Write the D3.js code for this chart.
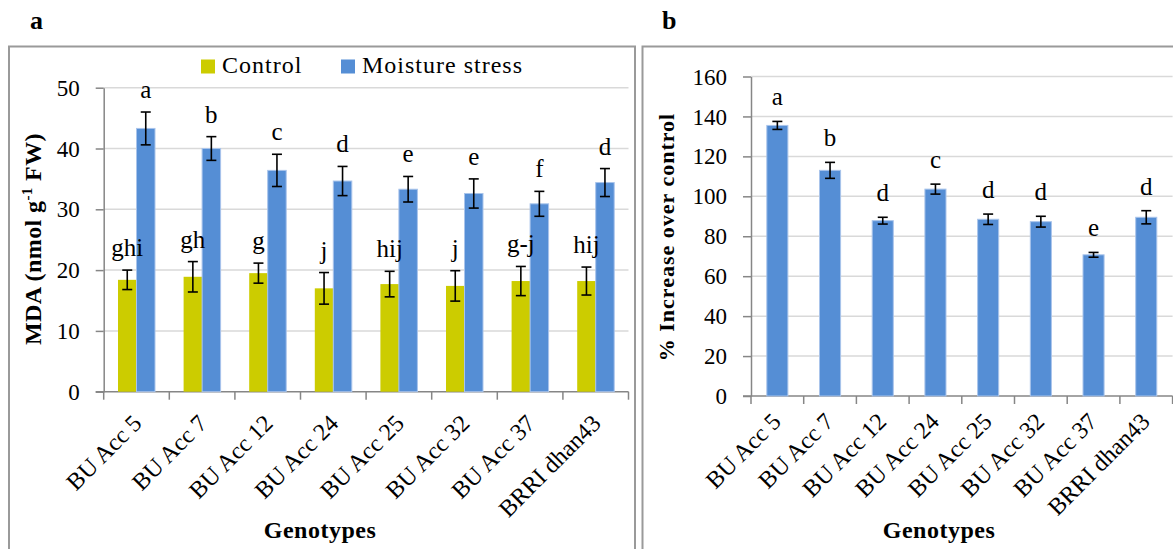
<!DOCTYPE html>
<html>
<head>
<meta charset="utf-8">
<script src="https://cdn.jsdelivr.net/npm/d3@7"></script>
<style>
  html, body { margin: 0; padding: 0; background: #fff; }
  svg { display: block; }
  text { font-family: 'Liberation Serif', 'Times New Roman', serif; fill: #000; }
</style>
</head>
<body>
<svg id="chart" width="1173" height="549"></svg>
<script>
// ---------- data ----------
const genotypes = ["BU Acc 5", "BU Acc 7", "BU Acc 12", "BU Acc 24", "BU Acc 25", "BU Acc 32", "BU Acc 37", "BRRI dhan43"];
const seriesNames = ["Control", "Moisture stress"];
const controlMDA = [18.4, 18.9, 19.5, 17.0, 17.7, 17.4, 18.2, 18.2];
const controlErr = [1.6, 2.5, 1.65, 2.6, 2.1, 2.5, 2.4, 2.3];
const controlLetters = ["ghi", "gh", "g", "j", "hij", "j", "g-j", "hij"];
const stressMDA = [43.3, 40.0, 36.4, 34.65, 33.3, 32.6, 30.9, 34.4];
const stressErr = [2.7, 1.95, 2.65, 2.4, 2.1, 2.4, 2.05, 2.3];
const stressLetters = ["a", "b", "c", "d", "e", "e", "f", "d"];
const increase = [135.5, 113.0, 87.8, 103.6, 88.5, 87.3, 70.7, 89.5];
const increaseErr = [2.0, 4.0, 1.7, 2.5, 2.6, 2.7, 1.2, 3.3];
const increaseLetters = ["a", "b", "d", "c", "d", "d", "e", "d"];
const mdaTicks = [0, 10, 20, 30, 40, 50];
const increaseTicks = [0, 20, 40, 60, 80, 100, 120, 140, 160];

// ---------- styles ----------
const YELLOW = "#cccc00";
const BLUE = "#558ed5";
const AXIS = "#868686";
const GRID = "#d9d9d9";
const BORDER = "#9a9a9a";

const svg = d3.select("#chart");

// panel borders
svg.append("rect").attr("x", 9).attr("y", 46.5).attr("width", 626).attr("height", 600)
  .attr("fill", "none").attr("stroke", BORDER).attr("stroke-width", 2);
svg.append("rect").attr("x", 642.5).attr("y", 46.5).attr("width", 600).attr("height", 600)
  .attr("fill", "none").attr("stroke", BORDER).attr("stroke-width", 2);

// panel letters
svg.append("text").attr("x", 30).attr("y", 28.5).attr("font-size", 26).attr("font-weight", "bold").text("a");
svg.append("text").attr("x", 662).attr("y", 28.5).attr("font-size", 26).attr("font-weight", "bold").text("b");

function drawFrame(g, x, y, ticks, x0, x1) {
  g.append("g").selectAll("line").data(ticks.filter(t => t !== 0)).join("line")
    .attr("x1", x0).attr("x2", x1)
    .attr("y1", d => y(d)).attr("y2", d => y(d))
    .attr("stroke", GRID).attr("stroke-width", 1.5);
  const ya = d3.axisLeft(y).tickValues(ticks).tickSize(8).tickSizeOuter(0).tickPadding(16);
  const yg = g.append("g").attr("transform", `translate(${x0},0)`).call(ya);
  yg.select(".domain").attr("stroke", AXIS).attr("stroke-width", 1.5);
  yg.selectAll(".tick line").attr("stroke", AXIS).attr("stroke-width", 1.5);
  yg.selectAll(".tick text").attr("font-size", 23).attr("font-family", "'Liberation Serif', serif").attr("dy", "0.33em");
  g.append("line").attr("x1", x0 - 8).attr("x2", x1).attr("y1", y(0)).attr("y2", y(0))
    .attr("stroke", AXIS).attr("stroke-width", 1.5);
  const step = x.step();
  const r0 = x.range()[0];
  const bpos = d3.range(x.domain().length + 1).map(i => r0 + i * step);
  g.append("g").selectAll("line").data(bpos).join("line")
    .attr("x1", d => d).attr("x2", d => d)
    .attr("y1", y(0)).attr("y2", y(0) + 8)
    .attr("stroke", AXIS).attr("stroke-width", 1.5);
}

function errorBars(g, data, cx, y, capW) {
  const eg = g.append("g").attr("stroke", "#000").attr("stroke-width", 1.6);
  data.forEach(d => {
    const x = cx(d);
    eg.append("line").attr("x1", x).attr("x2", x).attr("y1", y(d.v + d.e)).attr("y2", y(d.v - d.e));
    eg.append("line").attr("x1", x - capW / 2).attr("x2", x + capW / 2).attr("y1", y(d.v + d.e)).attr("y2", y(d.v + d.e));
    eg.append("line").attr("x1", x - capW / 2).attr("x2", x + capW / 2).attr("y1", y(d.v - d.e)).attr("y2", y(d.v - d.e));
  });
}

// ================= Panel a =================
{
  const g = svg.append("g");
  const x = d3.scaleBand().domain(genotypes).range([103.7, 628.5]).paddingInner(0).paddingOuter(0);
  const xi = d3.scaleBand().domain(seriesNames).range([0, x.bandwidth()]).paddingInner(0).paddingOuter(0.773);
  const y = d3.scaleLinear().domain([0, 50]).range([391.7, 87.7]);
  drawFrame(g, x, y, mdaTicks, 103.7, 628.5);

  const rows = [];
  genotypes.forEach((gname, i) => {
    rows.push({ g: gname, s: seriesNames[0], v: controlMDA[i], e: controlErr[i], lab: controlLetters[i], c: YELLOW });
    rows.push({ g: gname, s: seriesNames[1], v: stressMDA[i], e: stressErr[i], lab: stressLetters[i], c: BLUE });
  });
  g.append("g").selectAll("rect").data(rows).join("rect")
    .attr("x", d => x(d.g) + xi(d.s))
    .attr("width", xi.bandwidth())
    .attr("y", d => y(d.v))
    .attr("height", d => y(0) - y(d.v))
    .attr("fill", d => d.c)
    .attr("stroke", d => d.c === BLUE ? "#a9c4eb" : "none")
    .attr("stroke-width", 1);
  const cx = d => x(d.g) + xi(d.s) + xi.bandwidth() / 2;
  errorBars(g, rows, cx, y, 10);
  g.append("g").selectAll("text").data(rows).join("text")
    .attr("x", cx).attr("y", d => y(d.v + d.e) - 14)
    .attr("text-anchor", "middle").attr("font-size", 25)
    .text(d => d.lab);

  g.append("g").selectAll("text").data(genotypes).join("text")
    .attr("transform", d => `translate(${x(d) + x.bandwidth() / 2 + 6.5},${y(0) + 33}) rotate(-45)`)
    .attr("text-anchor", "end").attr("font-size", 24)
    .text(d => d);

  const yt = g.append("text").attr("transform", "translate(41,239) rotate(-90)")
    .attr("text-anchor", "middle").attr("font-size", 24).attr("font-weight", "bold").attr("letter-spacing", 0.4);
  yt.append("tspan").text("MDA (nmol g");
  yt.append("tspan").attr("font-size", 15).attr("dy", -9).text("-1");
  yt.append("tspan").attr("dy", 9).text(" FW)");
  g.append("text").attr("x", 320).attr("y", 538).attr("text-anchor", "middle")
    .attr("font-size", 24).attr("font-weight", "bold").attr("letter-spacing", 0.5).text("Genotypes");

  const legendX = [201, 341];
  seriesNames.forEach((s, i) => {
    g.append("rect").attr("x", legendX[i]).attr("y", 59.5).attr("width", 14).attr("height", 14)
      .attr("fill", i === 0 ? YELLOW : BLUE);
    g.append("text").attr("x", legendX[i] + 21).attr("y", 73).attr("font-size", 24)
      .attr("letter-spacing", 1).text(s);
  });
}

// ================= Panel b =================
{
  const g = svg.append("g");
  const x = d3.scaleBand().domain(genotypes).range([751, 1172.6]).paddingInner(0.6).paddingOuter(0.3);
  const y = d3.scaleLinear().domain([0, 160]).range([396, 76.5]);
  drawFrame(g, x, y, increaseTicks, 751, 1172.6);

  const rows = genotypes.map((gname, i) => ({ g: gname, v: increase[i], e: increaseErr[i], lab: increaseLetters[i] }));
  g.append("g").selectAll("rect").data(rows).join("rect")
    .attr("x", d => x(d.g))
    .attr("width", x.bandwidth())
    .attr("y", d => y(d.v))
    .attr("height", d => y(0) - y(d.v))
    .attr("fill", BLUE)
    .attr("stroke", "#a9c4eb").attr("stroke-width", 1);
  const cx = d => x(d.g) + x.bandwidth() / 2;
  errorBars(g, rows, cx, y, 10);
  g.append("g").selectAll("text").data(rows).join("text")
    .attr("x", cx).attr("y", d => y(d.v + d.e) - 16)
    .attr("text-anchor", "middle").attr("font-size", 25)
    .text(d => d.lab);

  g.append("g").selectAll("text").data(genotypes).join("text")
    .attr("transform", d => `translate(${x(d) + x.bandwidth() / 2 + 5},${y(0) + 27}) rotate(-45)`)
    .attr("text-anchor", "end").attr("font-size", 24)
    .text(d => d);

  g.append("text").attr("transform", "translate(674,237) rotate(-90)")
    .attr("text-anchor", "middle").attr("font-size", 22).attr("font-weight", "bold").attr("letter-spacing", 1)
    .text("% Increase over control");
  g.append("text").attr("x", 939).attr("y", 538).attr("text-anchor", "middle")
    .attr("font-size", 24).attr("font-weight", "bold").attr("letter-spacing", 0.5).text("Genotypes");
}
</script>
</body>
</html>
